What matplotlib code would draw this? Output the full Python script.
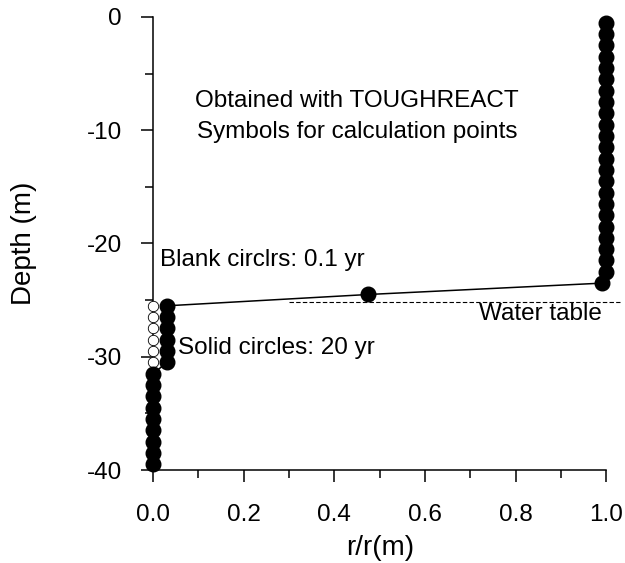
import matplotlib
matplotlib.use('Agg')
import matplotlib.pyplot as plt
from matplotlib.ticker import MultipleLocator

plt.rcParams['font.family'] = ['Liberation Sans', 'DejaVu Sans']
plt.rcParams['axes.unicode_minus'] = False

# 20 yr profile (solid circles), one point per grid cell
depth_20yr = [-0.5 - k for k in range(40)]
ratio_20yr = [1.0] * 23 + [0.99, 0.475] + [0.03] * 6 + [0.0] * 9

# 0.1 yr profile (blank circles), only the visible points
depth_01yr = [-25.5, -26.5, -27.5, -28.5, -29.5, -30.5, -31.5]
ratio_01yr = [0.0] * 7

water_table_x = [0.3, 1.03]
water_table_y = [-25.2, -25.2]

fig = plt.figure(figsize=(6.25, 5.63), dpi=100)
ax = fig.add_axes([0.245, 0.165, 0.725, 0.805])

ax.plot(water_table_x, water_table_y, color='black', lw=0.8,
        linestyle=(0, (4, 2)), clip_on=False)
ax.plot(ratio_01yr, depth_01yr, 'o', ms=7.5, mfc='white', mec='black',
        mew=0.6, clip_on=False, zorder=3)
ax.plot(ratio_20yr, depth_20yr, '-o', color='black', lw=1.1, ms=10.5,
        clip_on=False, zorder=4)

ax.set_xlim(0, 1)
ax.set_ylim(-40, 0)
for key in 'right', 'top':
    ax.spines[key].set_visible(False)
for key in 'left', 'bottom':
    ax.spines[key].set_linewidth(1.1)

ax.xaxis.set_major_locator(MultipleLocator(0.2))
ax.xaxis.set_minor_locator(MultipleLocator(0.1))
ax.yaxis.set_major_locator(MultipleLocator(10))
ax.yaxis.set_minor_locator(MultipleLocator(5))
ax.xaxis.set_major_formatter(plt.FormatStrFormatter('%.1f'))
ax.tick_params(which='major', direction='out', length=8.5, width=1.1,
               labelsize=17.5)
ax.tick_params(which='minor', direction='out', length=5.5, width=1.1)
ax.tick_params(axis='x', which='major', pad=16)
ax.tick_params(axis='y', which='major', pad=14)

ax.set_xlabel('r/r(m)', fontsize=20)
ax.set_ylabel('Depth (m)', fontsize=20)
ax.xaxis.set_label_coords(0.5, -0.143)
ax.yaxis.set_label_coords(-0.256, 0.5)

ax.text(0.45, -7.4, 'Obtained with TOUGHREACT', fontsize=17.5, ha='center', va='center')
ax.text(0.45, -10.2, 'Symbols for calculation points', fontsize=17.5, ha='center', va='center')
ax.text(0.015, -21.5, 'Blank circlrs: 0.1 yr', fontsize=17.5, ha='left', va='center')
ax.text(0.055, -29.2, 'Solid circles: 20 yr', fontsize=17.5, ha='left', va='center')
ax.text(0.72, -26.2, 'Water table', fontsize=17.5, ha='left', va='center')

fig.savefig('out.png')
